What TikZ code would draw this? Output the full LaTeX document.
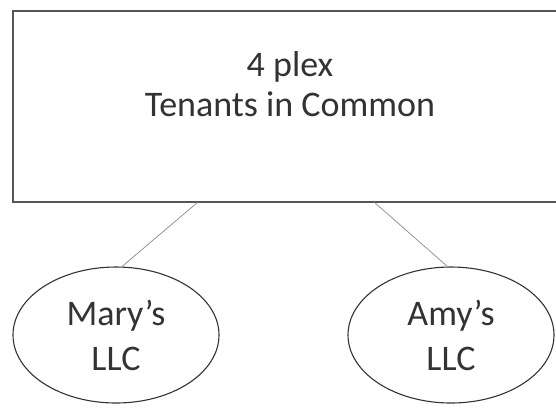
\documentclass[tikz,border=0pt]{standalone}
\usepackage{fontspec}
\setmainfont{Carlito}
\usetikzlibrary{shapes.geometric}
\definecolor{inkgray}{HTML}{333333}
\definecolor{framegray}{HTML}{555555}
\definecolor{linkgray}{HTML}{8A8A8A}
\tikzset{
  every node/.style={text=inkgray},
  holding/.style={draw=framegray, line width=1.6bp, minimum width=557bp, minimum height=191bp, inner sep=0pt},
  owner/.style={ellipse, draw=inkgray, line width=1.1bp, minimum width=206bp, minimum height=136bp, inner sep=0pt,
    align=center, font=\fontsize{36bp}{45bp}\selectfont},
  title/.style={align=center, font=\fontsize{36bp}{40bp}\selectfont},
  link/.style={draw=linkgray, line width=0.7bp}
}
\begin{document}
\begin{tikzpicture}[x=1bp, y=-1bp]
  \useasboundingbox (0,0) rectangle (556,407);
  \clip (0,0) rectangle (556,407);
  \fill[white] (0,0) rectangle (556,407);
  % shared property box (runs off the right edge)
  \node[holding] (plex) at (291.5,106.5) {};
  \node[title] (plextext) at (290,84) {4 plex\\Tenants in Common};
  % the two owning companies
  \node[owner] (mary) at (116,335) {Mary’s\\LLC};
  \node[owner] (amy) at (451,335) {Amy’s\\LLC};
  % attachment points on the bottom edge of the box
  \coordinate (plexL) at (198,202);
  \coordinate (plexR) at (374,202);
  \draw[link] (plexL) -- (mary.85);
  \draw[link] (plexR) -- (amy.93);
\end{tikzpicture}
\end{document}
